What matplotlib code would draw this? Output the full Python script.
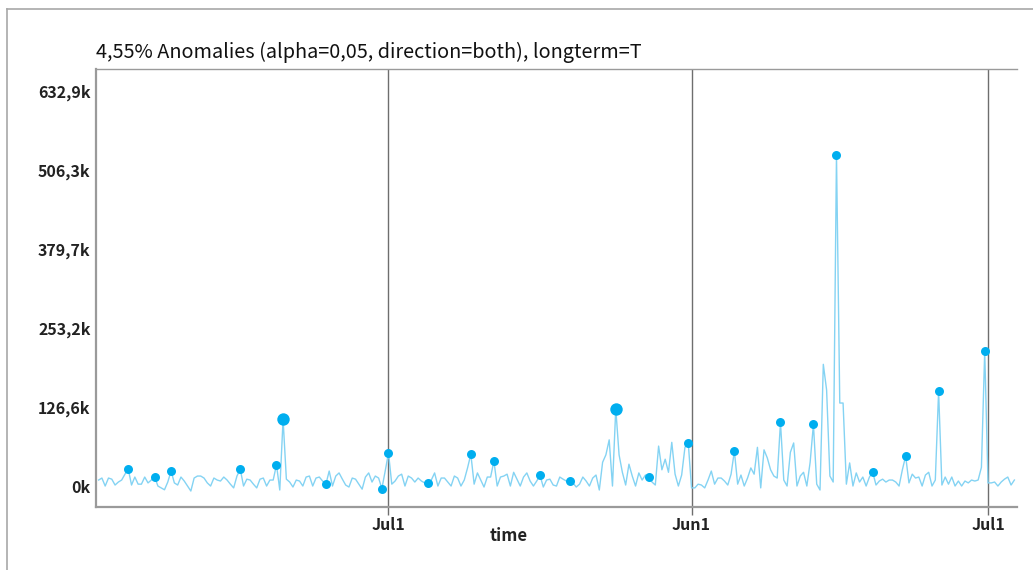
import numpy as np
import matplotlib
matplotlib.use("Agg")
import matplotlib.pyplot as plt
from matplotlib.lines import Line2D

plt.rcParams['font.family'] = ['Noto Sans CJK KR', 'DejaVu Sans']

# ------------------------------------------------------------
# Serie (valores en miles)
# ------------------------------------------------------------
counts_k = [
    9.6, 12.8, 0, 12.8, 11, 1.6, 6.4, 9.6, 19, 27,
    1.6, 14.4, 3, 3, 14.4, 5, 9.6, 15, 0, -3,
    -6, 6.4, 24, 5, 1.6, 14.4, 8, 0, -8, 12.8,
    16, 16, 12.8, 5, 0, 12.8, 9.6, 8, 14.4, 9.6,
    3, -3, 16, 27, 0, 11, 9.6, 3, -3, 11,
    12.8, 0, 9.6, 9.6, 34, -6.4, 107, 11, 6.4, -1.6,
    9.6, 8, 0, 14.4, 16, 0, 12.8, 14.4, 8, 3,
    24, 0, 16, 21, 11, 1.6, -1.6, 12.8, 11, 3,
    -5, 14.4, 21, 6.4, 16, 12.8, -4, 24, 53,
    3, 8, 16, 19, 0, 16, 12.8, 6.4, 12.8, 8, 5,
    5, 9.6, 21, 0, 12.8, 12.8, 6.4, 0, 16, 12.8,
    0, 9.6, 29, 51, 3, 21, 9.6, -1.6, 14.4, 14.4,
    40, 0, 14.4, 16, 19, 0, 22, 11, 0, 14.4,
    21, 8, 0, 8, 17, -1.6, 9.6, 11, 1.6, 0,
    14.4, 11, 8, 8, 5, -1.6, 3, 14.4, 8, 0,
    12.8, 17.6, -6.4, 38, 50, 74, 0, 124, 50, 22,
    1.6, 35, 16, 0, 21, 9.6, 17.6, 14.4, 6.4, 1.6,
    64, 26, 43, 22, 70, 19, 0, 17.6, 62, 69, -3,
    -3, 3, 1.6, -3, 9.6, 24, 3, 12.8, 12.8, 8,
    1.6, 19, 56, 3, 17.6, 0, 12.8, 29, 19, 62,
    -3, 58, 45, 26, 16, 12.8, 102, 9.6, 0, 54,
    69, 0, 16, 22, 0, 38, 99, 3, -6.4, 195,
    154, 16, 6.4, 531, 133, 133, 3, 37, 0, 21,
    6.4, 14.4, 0, 14.4, 22, 1.6, 8, 11, 6.4, 9.6,
    9.6, 6.4, 0, 26, 48, 5, 19, 12.8, 14.4, 0,
    17.6, 22, 0, 9.6, 152, 1.6, 14.4, 3, 14.4, 0,
    8, 0, 8, 5, 9.6, 8, 9.6, 30, 216, 5,
    5, 6.4, 0, 6.4, 11, 14.4, 1.6, 9.6,
]

# indices de las anomalias detectadas
anom_idx = [9, 17, 22, 43, 54, 56, 69, 86, 88, 100, 113, 120, 134, 143,
            157, 167, 179, 193, 207, 217, 224, 235, 245, 255, 269]
anom_big = [56, 157]

# ejes
x_tick_idx = [88, 180, 270]
x_tick_labels = ["Jul1", "Jun1", "Jul1"]
y_ticks = [0, 126.58, 253.16, 379.74, 506.32, 632.9]
y_tick_labels = ["0k", "126,6k", "253,2k", "379,7k", "506,3k", "632,9k"]

title = "4,55% Anomalies (alpha=0,05, direction=both), longterm=T"

# ------------------------------------------------------------
# Grafico
# ------------------------------------------------------------
y = np.array(counts_k, dtype=float)
x = np.arange(len(y))

W, H = 1033, 570
fig = plt.figure(figsize=(W / 100, H / 100), dpi=100)
ax = fig.add_axes([96 / W, 1 - 507 / H, (1017 - 96) / W, (507 - 69) / H])

line_c = "#84d3f3"
dot_c = "#00aeef"

for xt in x_tick_idx:
    ax.axvline(xt, color="#6e6e6e", lw=1.0, zorder=1)

ax.plot(x, y, color=line_c, lw=1.0, zorder=2)

small = [i for i in anom_idx if i not in anom_big]
ax.scatter(x[small], y[small], s=42, color=dot_c, zorder=3, linewidths=0)
ax.scatter(x[anom_big], y[anom_big], s=80, color=dot_c, zorder=3, linewidths=0)

ax.set_xlim(-0.79, 278.8)
ax.set_ylim(-33.6, 668.2)

ax.set_xticks(x_tick_idx)
ax.set_xticklabels(x_tick_labels, fontsize=11.5, fontweight="bold", color="#222222")
ax.set_yticks(y_ticks)
ax.set_yticklabels(y_tick_labels, fontsize=11.5, fontweight="bold", color="#222222")
ax.tick_params(axis="x", length=6, width=1, color="#6e6e6e", pad=1)
ax.tick_params(axis="y", length=0, pad=4)

ax.set_xlabel("time", fontsize=12, fontweight="bold", color="#222222")
ax.xaxis.set_label_coords((509 - 96) / 921, (507 - 527) / 438)

ax.set_title(title, loc="left", fontsize=14.3, pad=8, color="#111111")

for side in ["left", "bottom"]:
    ax.spines[side].set_color("#9a9a9a")
    ax.spines[side].set_linewidth(1.6)
ax.spines["top"].set_color("#9a9a9a")
ax.spines["top"].set_linewidth(1.0)
ax.spines["right"].set_visible(False)

# marco exterior
fig.add_artist(Line2D([7 / W, 7 / W], [1 - 9 / H, 0], color="#a8a8a8", lw=1.2))
fig.add_artist(Line2D([7 / W, 1], [1 - 9 / H, 1 - 9 / H], color="#a8a8a8", lw=1.2))

fig.savefig("out.png", dpi=100)
